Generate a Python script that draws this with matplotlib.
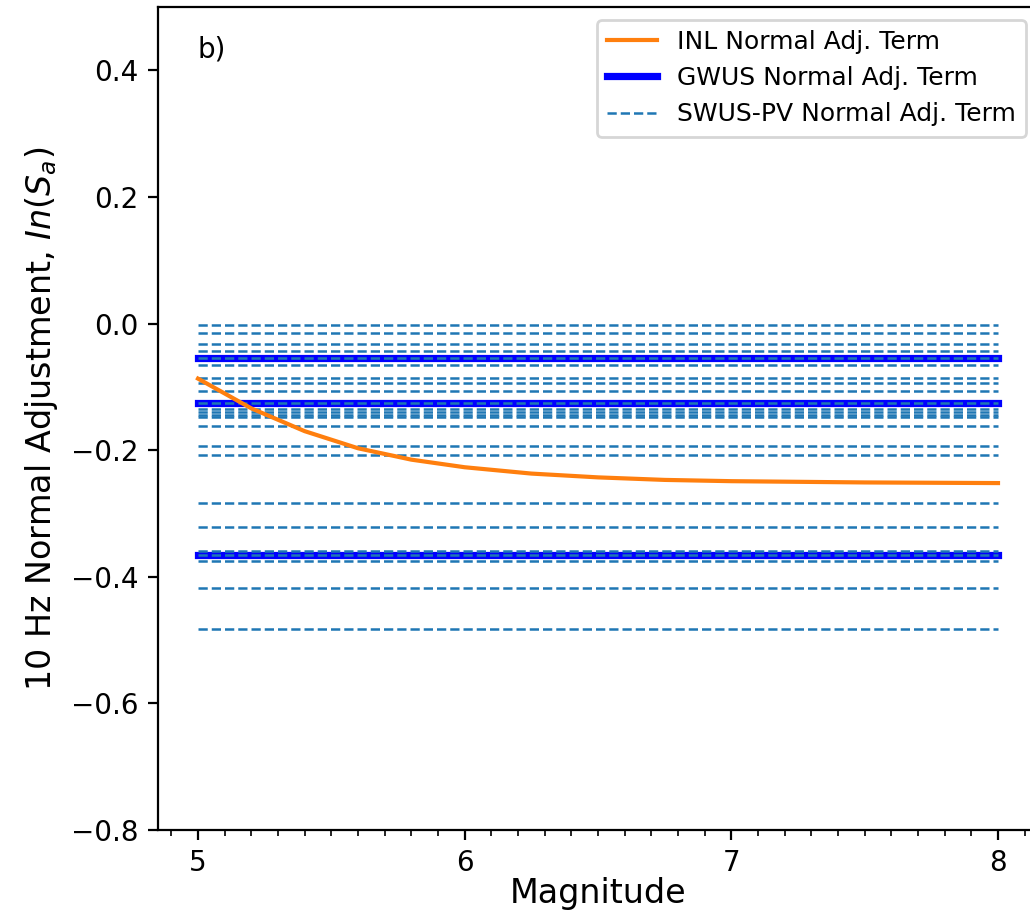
import numpy as np
import matplotlib
matplotlib.use('Agg')
import matplotlib.pyplot as plt
from matplotlib.ticker import MultipleLocator

##################################
# Data
##################################
# INL normal adjustment term vs magnitude
inl_mag = [5.0, 5.2, 5.4, 5.6, 5.8, 6.0, 6.25, 6.5, 6.75, 7.0, 7.5, 8.0]
inl_adj = [-0.087, -0.134, -0.170, -0.197, -0.215, -0.227, -0.237, -0.243, -0.247, -0.249, -0.251, -0.252]

# constant terms (magnitude independent)
mag_range = [5.0, 8.0]
gwus_adj = [-0.055, -0.125, -0.366]
swus_adj = [-0.003, -0.015, -0.032, -0.043, -0.055, -0.065, -0.086, -0.094, -0.107,
            -0.125, -0.135, -0.140, -0.144, -0.148, -0.162, -0.193, -0.207,
            -0.283, -0.322, -0.359, -0.366, -0.375, -0.418, -0.482]

##################################
# Plot
##################################
fig = plt.figure(figsize=(5.15, 4.59), dpi=200)
ax = fig.add_axes([158/1030., 88/918., 880/1030., 823/918.])

ax.plot(inl_mag, inl_adj, color='tab:orange', lw=1.5, zorder=4, label='INL Normal Adj. Term')

for i, v in enumerate(gwus_adj):
    ax.plot(mag_range, [v, v], color='blue', lw=2.6, zorder=2,
            label='GWUS Normal Adj. Term' if i == 0 else None)

for i, v in enumerate(swus_adj):
    ax.plot(mag_range, [v, v], color='tab:blue', ls='--', lw=0.9, zorder=3,
            label='SWUS-PV Normal Adj. Term' if i == 0 else None)

ax.set_ylim(-0.8, 0.5)
ax.set_xticks([5, 6, 7, 8])
ax.xaxis.set_minor_locator(MultipleLocator(0.1))
ax.set_xlabel('Magnitude', fontsize=12, labelpad=0)
ax.set_ylabel('10 Hz Normal Adjustment, $In(S_a)$', fontsize=12)
ax.text(5.0, 0.42, 'b)', fontsize=10)
ax.legend(loc='upper right', fontsize=9)

fig.savefig('out.png', dpi=200)
